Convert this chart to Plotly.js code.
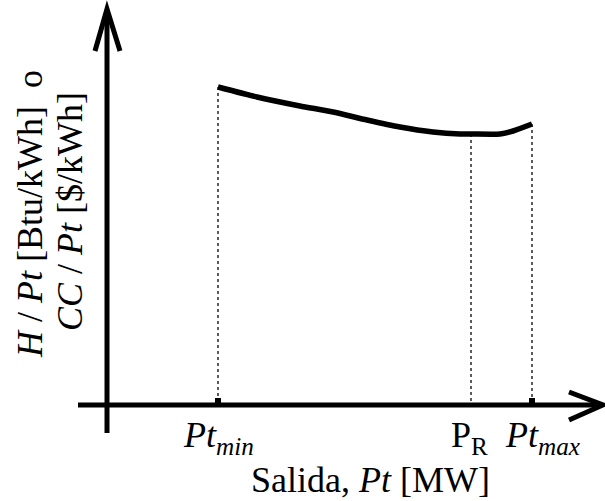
<!DOCTYPE html>
<html>
<head>
<meta charset="utf-8">
<script src="https://cdn.plot.ly/plotly-3.0.1.min.js"></script>
<style>html,body{margin:0;padding:0;background:#fff;}#chart{width:605px;height:501px;}</style>
</head>
<body>
<div id="chart"></div>
<script>
// Output Pt (arbitrary schematic units) and heat rate / cost per unit output
const outputPt = [111, 150, 193, 226, 260, 293, 326, 353, 364, 393, 406, 425];
const heatRate = [318, 308, 299, 293, 285, 278, 273, 271, 271, 271, 274, 281];

// Marked output levels
const levelNames  = ['Pt_min', 'P_R', 'Pt_max'];
const levelValues = [111, 364, 425];
const levelRates  = [318, 271, 281];
const levelLabels = ['<i>Pt<sub>min</sub></i>', 'P<sub>R</sub>', '<i>Pt<sub>max</sub></i>'];
const tickMarked  = [true, false, true];

const xTitle = 'Salida, <i>Pt</i> [MW]';
const yTitleLine1 = '<i>H</i> / <i>Pt</i> [Btu/kWh]  o';
const yTitleLine2 = '<i>CC</i> / <i>Pt</i> [$/kWh]';

const FONT = 'Liberation Serif, Times New Roman, serif';
const FS = 36;

const traces = [];
// dotted drop lines
levelValues.forEach((v, i) => {
  traces.push({
    x: [v, v], y: [levelRates[i], 0], mode: 'lines', type: 'scatter',
    line: {color: '#333', width: 1.6, dash: 'dot'}, hoverinfo: 'skip', showlegend: false
  });
});
// main curve
traces.push({
  x: outputPt, y: heatRate, mode: 'lines', type: 'scatter',
  line: {color: '#000', width: 5.5, shape: 'spline', smoothing: 0.6},
  showlegend: false
});
// small tick squares
traces.push({
  x: levelValues.filter((v, i) => tickMarked[i]),
  y: levelValues.filter((v, i) => tickMarked[i]).map(() => 4),
  mode: 'markers', type: 'scatter',
  marker: {symbol: 'square', size: 6, color: '#000'}, showlegend: false
});

const annotations = levelValues.map((v, i) => ({
  x: v, y: -8, xref: 'x', yref: 'y', text: levelLabels[i], showarrow: false,
  xanchor: 'center', yanchor: 'top', font: {family: FONT, size: FS, color: '#000'}
}));
annotations[2].xshift = 10;
annotations[1].xshift = -2;
annotations.push({
  x: 263, y: -53, xref: 'x', yref: 'y', text: xTitle, showarrow: false,
  xanchor: 'center', yanchor: 'top', font: {family: FONT, size: FS, color: '#000'}
});
annotations.push({
  x: -77, y: 191, xref: 'x', yref: 'y', text: yTitleLine1, showarrow: false, textangle: -90,
  xanchor: 'center', yanchor: 'middle', font: {family: FONT, size: FS, color: '#000'}
});
annotations.push({
  x: -37, y: 193, xref: 'x', yref: 'y', text: yTitleLine2, showarrow: false, textangle: -90,
  xanchor: 'center', yanchor: 'middle', font: {family: FONT, size: FS, color: '#000'}
});

const shapes = [
  {type: 'line', xref: 'x', yref: 'y', x0: 0, x1: 0, y0: -28, y1: 394, line: {color: '#000', width: 5}},
  {type: 'line', xref: 'x', yref: 'y', x0: -29, x1: 494, y0: 0, y1: 0, line: {color: '#000', width: 5}},
  {type: 'path', xref: 'x', yref: 'y', path: 'M -12,354 L 0,396 L 13,354', line: {color: '#000', width: 5}},
  {type: 'path', xref: 'x', yref: 'y', path: 'M 462,13 L 496,0 L 462,-15', line: {color: '#000', width: 5}}
];

const layout = {
  width: 605, height: 501,
  margin: {l: 0, r: 0, t: 0, b: 0, pad: 0},
  paper_bgcolor: '#fff', plot_bgcolor: '#fff',
  xaxis: {range: [-107, 498], visible: false, fixedrange: true},
  yaxis: {range: [-96, 405], visible: false, fixedrange: true},
  annotations: annotations,
  shapes: shapes,
  showlegend: false
};

Plotly.newPlot('chart', traces, layout, {displayModeBar: false, staticPlot: true});
</script>
</body>
</html>
